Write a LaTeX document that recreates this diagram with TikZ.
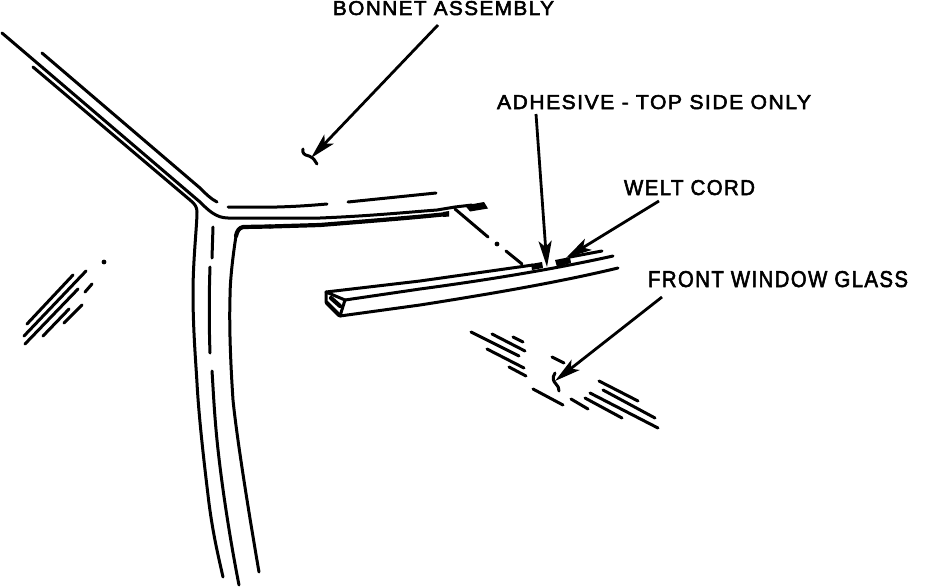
\documentclass[tikz,border=0pt]{standalone}
\usepackage{graphicx}
\usepackage{fontspec}
\setmainfont{Liberation Sans}[FakeBold=2.6,LetterSpace=7]
\usetikzlibrary{arrows.meta}
\tikzset{
  ink/.style={line width=3pt,line cap=round,line join=round,black},
  thick ink/.style={line width=4.2pt,line cap=round,line join=round,black},
  leader/.style={line width=2.8pt,black,-{Stealth[length=26pt,width=13pt,inset=6pt]}},
  callout/.style={inner sep=0pt,outer sep=0pt,anchor=north west},
}
\newcommand{\lbl}[3]{\resizebox{#1pt}{#2pt}{#3}}
\begin{document}
\begin{tikzpicture}[x=1pt,y=-1pt]
\useasboundingbox (0,0) rectangle (928,586);
% labels
\node[callout] (bonnet) at (333,1) {\lbl{221}{14}{BONNET ASSEMBLY}};
\node[callout] (adhesive) at (497,95) {\lbl{314}{14}{ADHESIVE - TOP SIDE ONLY}};
\node[callout] (welt) at (624,180) {\lbl{131}{15}{WELT CORD}};
\node[callout] (glass) at (648,271) {\lbl{260}{16}{FRONT WINDOW GLASS}};
% leader ends
\coordinate (bonnetS) at (438,25);
\coordinate (bonnetT) at (311,158);
\coordinate (adhesiveS) at (536,114);
\coordinate (adhesiveT) at (547,267);
\coordinate (weltS) at (659,201);
\coordinate (weltT) at (566,258);
\coordinate (glassS) at (662,297);
\coordinate (glassT) at (555,381);
\draw[leader] (bonnetS) -- (bonnetT);
\draw[leader] (adhesiveS) -- (adhesiveT);
\draw[leader] (weltS) -- (weltT);
\draw[leader] (glassS) -- (glassT);
% break squiggles
\draw[ink] (303,149) .. controls (302,153) and (304,155) .. (309,156) .. controls (314,158) and (315,161) .. (317,164);
\draw[ink] (555,373) .. controls (552,378) and (553,381) .. (556,384) .. controls (558,386) and (559,388) .. (559,391);
% frame: diagonal and roof rail
\draw[ink] (2,33) -- (200,202) .. controls (208,210) and (216,218) .. (228,218) -- (320,218)
  .. controls (370,216) and (410,212) .. (437,210) -- (455,207) -- (472,205);
\draw[ink] (42,53) -- (200,188) .. controls (206,194) and (211,199) .. (217,202);
\draw[ink] (33,67) -- (190,200) .. controls (195,204) and (197,207) .. (197,212)
  .. controls (197,225) and (193,260) .. (193,293) .. controls (193,330) and (196,365) .. (197,383)
  .. controls (199,420) and (205,470) .. (208,495) .. controls (212,530) and (218,555) .. (223,577);
% upper dashes
\draw[ink] (228,207) -- (277,207) .. controls (295,206.5) and (310,205.5) .. (327,204);
\draw[ink] (348,202) -- (436,193);
% thick lower rail
\draw[thick ink] (270,226.5) -- (243,227) .. controls (239,228) and (237,231) .. (236,236);
\draw[ink] (236,236) .. controls (233,255) and (230,280) .. (230,297) .. controls (229,330) and (231,370) .. (233,400)
  .. controls (237,440) and (250,520) .. (259,572);
\draw[thick ink] (270,226.5) -- (320,225) .. controls (370,221) and (420,217) .. (447,214);
\fill[black] (443,212) -- (449,211) -- (449,216.5) -- (443,217) -- cycle;
% middle pillar line
\draw[ink] (213,227) -- (212,258);
\draw[ink] (210,267) .. controls (209,295) and (209,325) .. (210,353);
\draw[ink] (212,371) .. controls (213,385) and (214,410) .. (217,440) .. controls (222,490) and (232,550) .. (239,585);
% seal blob
\fill[black] (465,205.5) -- (484,202) -- (488,208.5) -- (470,211.5) -- cycle;
% dash-dot sight line
\draw[ink] (455,209) -- (488,237);
\fill[black] (497,244) circle (2.4pt);
\draw[ink] (506,251) -- (522,264);
% glass section
\draw[ink] (326,292) -- (420,281) -- (533,265);
\draw[ink] (345,300) -- (420,289) .. controls (480,281) and (550,270) .. (613,256);
\draw[ink] (340,316) -- (420,305) .. controls (490,294) and (560,282) .. (618,268);
\draw[ink] (326,292) -- (326,302) -- (340,316) -- (345,300) -- (326,292);
\draw[thick ink] (331,298) -- (340,306);
\draw[thick ink] (327,303) -- (339,315);
\fill[black] (531,264) -- (542,262) -- (543,268) -- (532,270) -- cycle;
\fill[black] (555,260) -- (570,257) -- (571,263) -- (557,267) -- cycle;
\draw[ink] (570,257) -- (602,251);
% hatching left
\draw[ink] (27,324) -- (73,275);
\draw[ink] (24,336) -- (86,271);
\draw[ink] (25,344) -- (78,289);
\draw[ink] (43,336) -- (69,309);
\draw[ink] (64,323) -- (82,305);
\draw[ink] (85,292) -- (92,284);
\fill[black] (104,262) circle (2.4pt);
% hatching lower
\draw[ink] (471,332) -- (519,356);
\draw[ink] (492,334) -- (525,351);
\draw[ink] (513,337) -- (523,342);
\draw[ink] (487,349) -- (524,368);
\draw[ink] (509,367) -- (526,376);
\draw[ink] (552,357) -- (564,363);
\draw[ink] (533,389) -- (563,405);
\draw[ink] (571,399) -- (588,409);
\draw[ink] (585,398) -- (622,418);
\draw[ink] (590,393) -- (658,428);
\draw[ink] (603,390) -- (655,418);
\draw[ink] (599,381) -- (638,401);
\end{tikzpicture}
\end{document}
